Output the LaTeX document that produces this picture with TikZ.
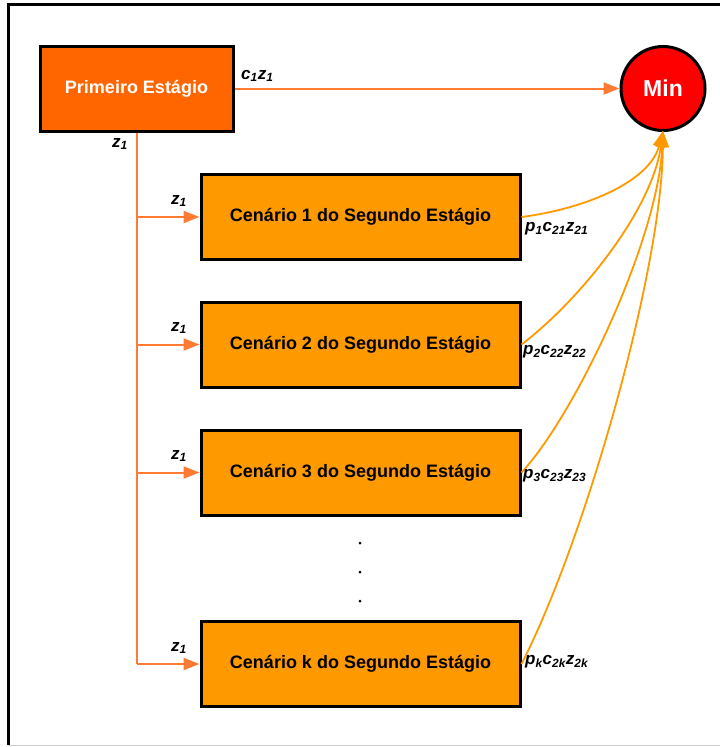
\documentclass[tikz,border=0pt]{standalone}
\usepackage{fontspec}
\setmainfont{Liberation Sans}
\usetikzlibrary{arrows.meta}
\definecolor{firstor}{HTML}{FF6600}
\definecolor{secor}{HTML}{FF9900}
\definecolor{lineor}{HTML}{FF7A33}
\definecolor{minred}{HTML}{FF0000}
\tikzset{
  firstbox/.style={draw=black,line width=3pt,fill=firstor,minimum width=193pt,minimum height=85pt,inner sep=0pt,text=white,font=\fontsize{18}{21}\selectfont\bfseries},
  scenbox/.style={draw=black,line width=3pt,fill=secor,minimum width=319pt,minimum height=85pt,inner sep=0pt,text=black,font=\fontsize{18}{21}\selectfont\bfseries},
  minnode/.style={circle,draw=black,line width=3pt,fill=minred,minimum size=84pt,inner sep=0pt,text=white,font=\fontsize{23}{26}\selectfont\bfseries},
  lbl/.style={font=\fontsize{17}{19}\selectfont\bfseries\itshape,inner sep=1pt},
  branch/.style={draw=lineor,line width=2pt},
  branchar/.style={branch,-{Triangle[length=16pt,width=12pt]}},
  curv/.style={draw=secor,line width=1.8pt,-{Triangle[length=16pt,width=12pt]}},
  dotn/.style={circle,fill=black,inner sep=0pt,minimum size=3pt}
}
\begin{document}
\begin{tikzpicture}[x=1pt,y=-1pt]
\useasboundingbox (0,0) rectangle (720,747);
% frame
\draw[black,line width=3pt] (8,745) -- (8,4) -- (722,4);
\draw[gray!40,line width=1.5pt] (8,745.5) -- (722,745.5);

\node[firstbox] (first) at (136.5,88.5) {Primeiro Estágio};
\node[minnode] (min) at (663,88.5) {Min};
\node[scenbox] (s1) at (360.5,217) {Cenário 1 do Segundo Estágio};
\node[scenbox] (s2) at (360.5,344.5) {Cenário 2 do Segundo Estágio};
\node[scenbox] (s3) at (360.5,472.5) {Cenário 3 do Segundo Estágio};
\node[scenbox] (sk) at (360.5,664) {Cenário k do Segundo Estágio};

% first stage to min
\draw[branchar] (first.east) -- (min.west);
\node[lbl,anchor=south west] (lc) at (240,83) {c\textsubscript{1}z\textsubscript{1}};

% vertical trunk
\coordinate (b1) at (137,217);
\coordinate (b2) at (137,344.5);
\coordinate (b3) at (137,472.5);
\coordinate (bk) at (137,664);
\draw[branch] (137,133) -- (bk);
\draw[branchar] (b1) -- (s1.west);
\draw[branchar] (b2) -- (s2.west);
\draw[branchar] (b3) -- (s3.west);
\draw[branchar] (bk) -- (s1.west |- bk);
\node[lbl] (lz0) at (120,144) {z\textsubscript{1}};
\node[lbl] (lz1) at (179,201) {z\textsubscript{1}};
\node[lbl] (lz2) at (179,328) {z\textsubscript{1}};
\node[lbl] (lz3) at (179,456) {z\textsubscript{1}};
\node[lbl] (lzk) at (179,648) {z\textsubscript{1}};

% curves to min
\coordinate (mb) at (663,131);
\draw[curv] (s1.east) .. controls (590,208) and (650,180) .. (mb);
\draw[curv] (s2.east) .. controls (580,300) and (652,210) .. (mb);
\draw[curv] (s3.east) .. controls (575,415) and (658,240) .. (mb);
\draw[curv] (sk.east) .. controls (585,540) and (662,270) .. (mb);

\node[lbl,anchor=west] (p1) at (524,229) {p\textsubscript{1}c\textsubscript{21}z\textsubscript{21}};
\node[lbl,anchor=west] (p2) at (522,352) {p\textsubscript{2}c\textsubscript{22}z\textsubscript{22}};
\node[lbl,anchor=west] (p3) at (522,476) {p\textsubscript{3}c\textsubscript{23}z\textsubscript{23}};
\node[lbl,anchor=west] (pk) at (524,662) {p\textsubscript{k}c\textsubscript{2k}z\textsubscript{2k}};

\node[dotn] (d1) at (360,543) {};
\node[dotn] (d2) at (360,572) {};
\node[dotn] (d3) at (360,601) {};
\end{tikzpicture}
\end{document}
